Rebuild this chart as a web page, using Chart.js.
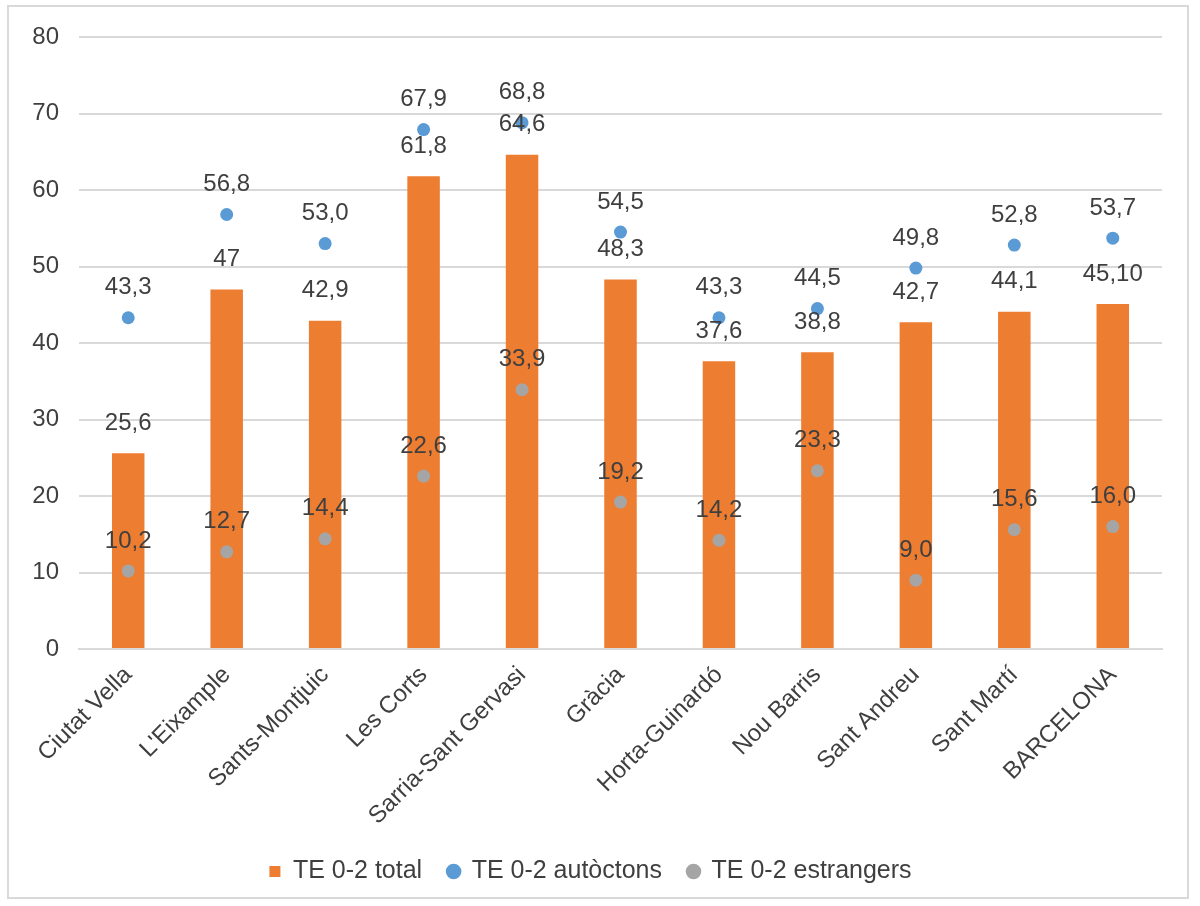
<!DOCTYPE html>
<html><head><meta charset="utf-8">
<script src="https://cdn.jsdelivr.net/npm/chart.js@4.4.1/dist/chart.umd.min.js"></script>
<style>
html,body{margin:0;padding:0;background:#fff;}
#wrap{position:absolute;left:7px;top:5px;width:1182px;height:894px;border:2px solid #d9d9d9;box-sizing:border-box;}
canvas{display:block;}
</style></head><body>
<div id="wrap"><canvas id="c" width="1178" height="890"></canvas></div>
<script>
const categories = ["Ciutat Vella","L'Eixample","Sants-Montjuic","Les Corts","Sarria-Sant Gervasi","Gràcia","Horta-Guinardó","Nou Barris","Sant Andreu","Sant Martí","BARCELONA"];
const totalValues = [25.6,47,42.9,61.8,64.6,48.3,37.6,38.8,42.7,44.1,45.1];
const totalLabels = ["25,6","47","42,9","61,8","64,6","48,3","37,6","38,8","42,7","44,1","45,10"];
const autoctonsValues = [43.3,56.8,53.0,67.9,68.8,54.5,43.3,44.5,49.8,52.8,53.7];
const autoctonsLabels = ["43,3","56,8","53,0","67,9","68,8","54,5","43,3","44,5","49,8","52,8","53,7"];
const estrangersValues = [10.2,12.7,14.4,22.6,33.9,19.2,14.2,23.3,9.0,15.6,16.0];
const estrangersLabels = ["10,2","12,7","14,4","22,6","33,9","19,2","14,2","23,3","9,0","15,6","16,0"];
const seriesNames = ["TE 0-2 total","TE 0-2 autòctons","TE 0-2 estrangers"];
const yTicks = [0,10,20,30,40,50,60,70,80];

const FONT = "'Liberation Sans', Arial, sans-serif";
const TXT = '#3f3f3f';
const FS = 24;
const labelSets = [totalLabels, autoctonsLabels, estrangersLabels];
const legendStyles = ['rect', 'circle', 'circle'];

const labelPlugin = {
  id: 'valueLabels',
  afterDatasetsDraw(chart) {
    const ctx = chart.ctx;
    ctx.save();
    ctx.font = FS + "px " + FONT;
    ctx.fillStyle = TXT;
    ctx.textAlign = 'center';
    ctx.textBaseline = 'middle';
    chart.data.datasets.forEach((ds, di) => {
      const meta = chart.getDatasetMeta(di);
      meta.data.forEach((el, i) => {
        ctx.fillText(labelSets[di][i], el.x, el.y - 30);
      });
    });
    ctx.restore();
  }
};

Chart.defaults.font.family = FONT;
Chart.defaults.color = TXT;

new Chart(document.getElementById('c'), {
  type: 'bar',
  data: {
    labels: categories,
    datasets: [
      { type: 'bar', label: seriesNames[0], data: totalValues, backgroundColor: '#ED7D31', borderWidth: 0,
        barPercentage: 0.33, categoryPercentage: 1.0, order: 3 },
      { type: 'line', label: seriesNames[1], data: autoctonsValues, showLine: false, pointStyle: 'circle',
        pointRadius: 6.5, pointBackgroundColor: '#5B9BD5', pointBorderColor: '#5B9BD5', backgroundColor: '#5B9BD5', borderColor: '#5B9BD5', pointBorderWidth: 0, order: 1 },
      { type: 'line', label: seriesNames[2], data: estrangersValues, showLine: false, pointStyle: 'circle',
        pointRadius: 6.5, pointBackgroundColor: '#A5A5A5', pointBorderColor: '#A5A5A5', backgroundColor: '#A5A5A5', borderColor: '#A5A5A5', pointBorderWidth: 0, order: 2 }
    ]
  },
  options: {
    responsive: false,
    animation: false,
    layout: { padding: { left: 10, right: 25, top: 30, bottom: 3 } },
    plugins: {
      tooltip: { enabled: false },
      legend: {
        position: 'bottom',
        labels: {
          usePointStyle: true,
          boxWidth: 11, boxHeight: 11,
          padding: 26,
          font: { size: 25, family: FONT },
          color: TXT,
          generateLabels(chart) {
            const items = Chart.defaults.plugins.legend.labels.generateLabels(chart);
            items.sort((a, b) => a.datasetIndex - b.datasetIndex);
            items.forEach(it => { it.pointStyle = legendStyles[it.datasetIndex]; it.lineWidth = 0; });
            return items;
          }
        }
      }
    },
    scales: {
      x: {
        grid: { display: false },
        border: { color: '#d9d9d9', width: 2 },
        ticks: { font: { size: FS, family: FONT }, color: TXT, maxRotation: 45, minRotation: 45, autoSkip: false, padding: 4 },
        afterFit(scale) { scale.height = 184; }
      },
      y: {
        min: 0, max: 80,
        afterBuildTicks(scale) { scale.ticks = yTicks.map(v => ({ value: v })); },
        grid: { color: '#d9d9d9', lineWidth: 2, drawTicks: true, tickLength: 12, tickColor: 'rgba(0,0,0,0)' },
        border: { display: false },
        ticks: { font: { size: FS, family: FONT }, color: TXT, padding: 8 },
        afterFit(scale) { scale.width = 60; }
      }
    }
  },
  plugins: [labelPlugin]
});
</script>
</body></html>
